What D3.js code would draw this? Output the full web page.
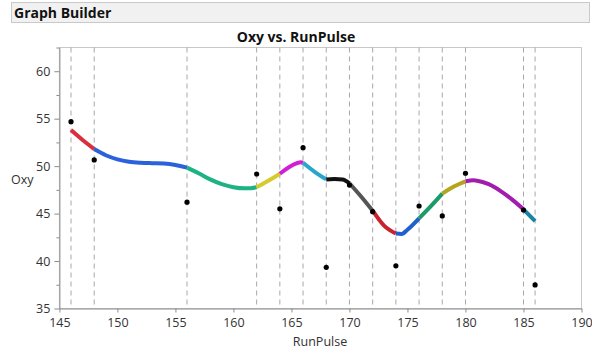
<!DOCTYPE html>
<html><head><meta charset="utf-8">
<script src="https://cdn.jsdelivr.net/npm/d3@7"></script>
<style>
body{margin:0;background:#fff;}
svg{display:block;font-family:"Open Sans","Noto Sans",sans-serif;}
</style></head>
<body><svg id="c" width="592" height="351"></svg>
<script>
// Observed points (RunPulse, Oxy)
const pointX = [146,148,156,162,164,166,168,170,172,174,176,178,180,185,186];
const pointY = [54.68,50.65,46.2,49.17,45.5,51.94,39.34,48.0,45.2,39.5,45.8,44.75,49.25,45.38,37.48];
// Smoother, per colored segment (x values, y values)
const segX = [
 [146,147,148],
 [148,149,150,151,152,153,154,155,156],
 [156,157,158,159,160,161,161.5,162],
 [162,163,164],
 [164,165,165.8,166],
 [166,167,168],
 [168,168.7,169.4,170],
 [170,171,172],
 [172,173,174],
 [174,174.5,175,176],
 [176,177,178],
 [178,179,180],
 [180,180.7,181,182,183,184,185],
 [185,186]
];
const segY = [
 [53.8,52.75,51.8],
 [51.8,51.15,50.72,50.47,50.36,50.31,50.27,50.12,49.84],
 [49.84,49.25,48.6,48.1,47.78,47.66,47.68,47.78],
 [47.78,48.45,49.2],
 [49.2,50.05,50.42,50.35],
 [50.35,49.4,48.6],
 [48.6,48.64,48.6,48.2],
 [48.2,46.8,45.3],
 [45.3,43.7,42.9],
 [42.9,42.85,43.3,44.5],
 [44.5,45.75,47.1],
 [47.1,47.85,48.4],
 [48.4,48.5,48.47,48.1,47.4,46.5,45.45],
 [45.45,44.2]
];
const segColors = ["#d8303f","#2b62dc","#1db283","#d4cc2c","#d21fd4","#29a6cb","#111111","#555555",
                   "#c8222f","#1f5fd0","#1c9a68","#b3a61e","#a21cae","#1a84a2"];
const xTicks = [145,150,155,160,165,170,175,180,185,190];
const yTicks = [35,40,45,50,55,60];
const yMinor = [37.5,42.5,47.5,52.5,57.5,62.5];

const svg = d3.select("#c");
const L=59.4, R=581.5, T=47.5, B=308.5;
const x = d3.scaleLinear().domain([145,190]).range([L,R]);
const y = d3.scaleLinear().domain([35,62.5]).range([B,T]);

// header bar
svg.append("rect").attr("x",11.5).attr("y",2.5).attr("width",578).attr("height",20)
  .attr("fill","#f1f1f1").attr("stroke","#c9c9c9");
svg.append("text").attr("x",14).attr("y",18).attr("font-size",14).attr("font-weight","bold")
  .attr("fill","#111").text("Graph Builder");
svg.append("text").attr("x",296).attr("y",42).attr("text-anchor","middle").attr("font-size",14)
  .attr("font-weight","bold").attr("fill","#111").text("Oxy vs. RunPulse");

// frame
svg.append("rect").attr("x",L).attr("y",T).attr("width",R-L).attr("height",B-T)
  .attr("fill","none").attr("stroke","#c8c8c8");

// dashed lines at unique x
svg.append("g").selectAll("line").data(pointX).join("line")
  .attr("x1",d=>x(d)).attr("x2",d=>x(d)).attr("y1",T).attr("y2",B)
  .attr("stroke","#a8a8a8").attr("stroke-dasharray","5,4").attr("stroke-width",1);

// axes
const xAxis = svg.append("g").attr("transform",`translate(0,${B})`)
  .call(d3.axisBottom(x).tickValues(xTicks).tickSize(4).tickSizeOuter(0));
const yAxis = svg.append("g").attr("transform",`translate(${L},0)`)
  .call(d3.axisLeft(y).tickValues(yTicks).tickSize(5).tickSizeOuter(0));
svg.append("g").attr("transform",`translate(${L},0)`)
  .call(d3.axisLeft(y).tickValues(yMinor).tickSize(3).tickFormat("").tickSizeOuter(0))
  .select(".domain").remove();
[xAxis,yAxis].forEach(a=>{
  a.select(".domain").attr("stroke","#8c8c8c");
  a.selectAll(".tick line").attr("stroke","#8c8c8c");
  a.selectAll("text").attr("font-size",12.5).attr("fill","#333").attr("font-family","'Open Sans',sans-serif");
});
svg.selectAll(".tick line").attr("stroke","#8c8c8c");
xAxis.selectAll("text").attr("dy","0.9em");
yAxis.selectAll("text").attr("dx","-1");

svg.append("text").attr("x",320).attr("y",346).attr("text-anchor","middle").attr("font-size",12.5)
  .attr("fill","#333").text("RunPulse");
svg.append("text").attr("x",11).attr("y",184).attr("font-size",12.5).attr("fill","#333").text("Oxy");

// smoother segments
const line = d3.line().x(d=>x(d[0])).y(d=>y(d[1])).curve(d3.curveMonotoneX);
svg.append("g").selectAll("path").data(segX.map((xs,i)=>xs.map((v,j)=>[v,segY[i][j]])))
  .join("path").attr("d",line).attr("fill","none")
  .attr("stroke",(d,i)=>segColors[i]).attr("stroke-width",4).attr("stroke-linecap","butt");

// points
svg.append("g").selectAll("circle").data(pointX.map((v,i)=>[v,pointY[i]])).join("circle")
  .attr("cx",d=>x(d[0])).attr("cy",d=>y(d[1])).attr("r",2.6).attr("fill","#000");
</script></body></html>
